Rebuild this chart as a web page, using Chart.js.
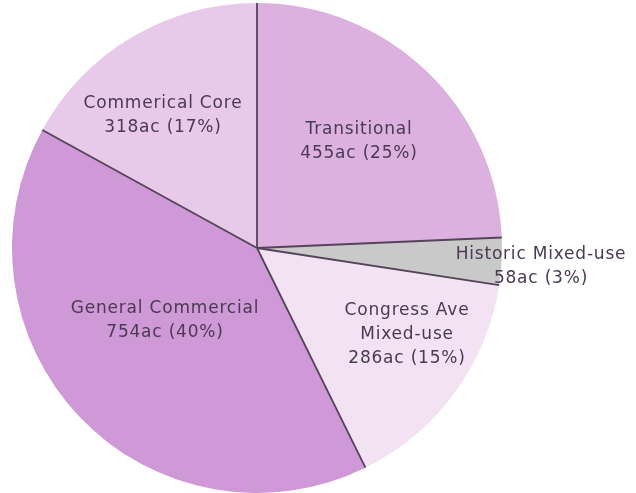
<!DOCTYPE html>
<html>
<head>
<meta charset="utf-8">
<script src="https://cdn.jsdelivr.net/npm/chart.js@4"></script>
<style>
  html, body { margin: 0; padding: 0; background: #fff; }
  #wrap { width: 636px; height: 493px; }
</style>
</head>
<body>
<div id="wrap"><canvas id="chart-area"></canvas></div>
<script>
var categories = ['Transitional', 'Historic Mixed-use', 'Congress Ave Mixed-use', 'General Commercial', 'Commerical Core'];
var acres = [455, 58, 286, 754, 318];
var percents = [25, 3, 15, 40, 17];

// label text lines, built from the data
var labelLines = [
    ['Transitional', acres[0] + 'ac (' + percents[0] + '%)'],
    ['Historic Mixed-use', acres[1] + 'ac (' + percents[1] + '%)'],
    ['Congress Ave', 'Mixed-use', acres[2] + 'ac (' + percents[2] + '%)'],
    ['General Commercial', acres[3] + 'ac (' + percents[3] + '%)'],
    ['Commerical Core', acres[4] + 'ac (' + percents[4] + '%)']
];
// where each label block is centred (x, first line y)
var labelPos = [[359, 130], [541, 255], [407, 311], [165, 309], [163, 104]];

// dark radial divider lines only (outer edge has no outline)
var dividers = {
    id: 'dividers',
    afterDatasetsDraw: function(chart) {
        var ctx = chart.ctx;
        var arcs = chart.getDatasetMeta(0).data;
        ctx.save();
        ctx.strokeStyle = '#54445a';
        ctx.lineWidth = 1.8;
        arcs.forEach(function(a) {
            ctx.beginPath();
            ctx.moveTo(a.x, a.y);
            ctx.lineTo(a.x + Math.cos(a.startAngle) * a.outerRadius, a.y + Math.sin(a.startAngle) * a.outerRadius);
            ctx.stroke();
        });
        ctx.restore();
    }
};

var sliceLabels = {
    id: 'sliceLabels',
    afterDatasetsDraw: function(chart) {
        var ctx = chart.ctx;
        ctx.save();
        ctx.font = '17px "DejaVu Sans"';
        ctx.letterSpacing = '0.8px';
        ctx.fillStyle = '#4a3a52';
        ctx.textAlign = 'center';
        ctx.textBaseline = 'middle';
        labelLines.forEach(function(lines, i) {
            lines.forEach(function(t, j) {
                ctx.fillText(t, labelPos[i][0], labelPos[i][1] + j * 24);
            });
        });
        ctx.restore();
    }
};

var config = {
    type: 'pie',
    data: {
        labels: categories,
        datasets: [{
            data: acres,
            backgroundColor: ['#dcb1df', '#c9c9c9', '#f2e2f3', '#cf98d6', '#e8c9ea'],
            borderWidth: 0
        }]
    },
    options: {
        responsive: true,
        maintainAspectRatio: false,
        animation: false,
        layout: { padding: { left: 12, right: 134, top: 3, bottom: 0 } },
        plugins: {
            legend: { display: false },
            tooltip: { enabled: false }
        }
    },
    plugins: [dividers, sliceLabels]
};

window.onload = function() {
    var ctx = document.getElementById('chart-area').getContext('2d');
    new Chart(ctx, config);
};
</script>
</body>
</html>
